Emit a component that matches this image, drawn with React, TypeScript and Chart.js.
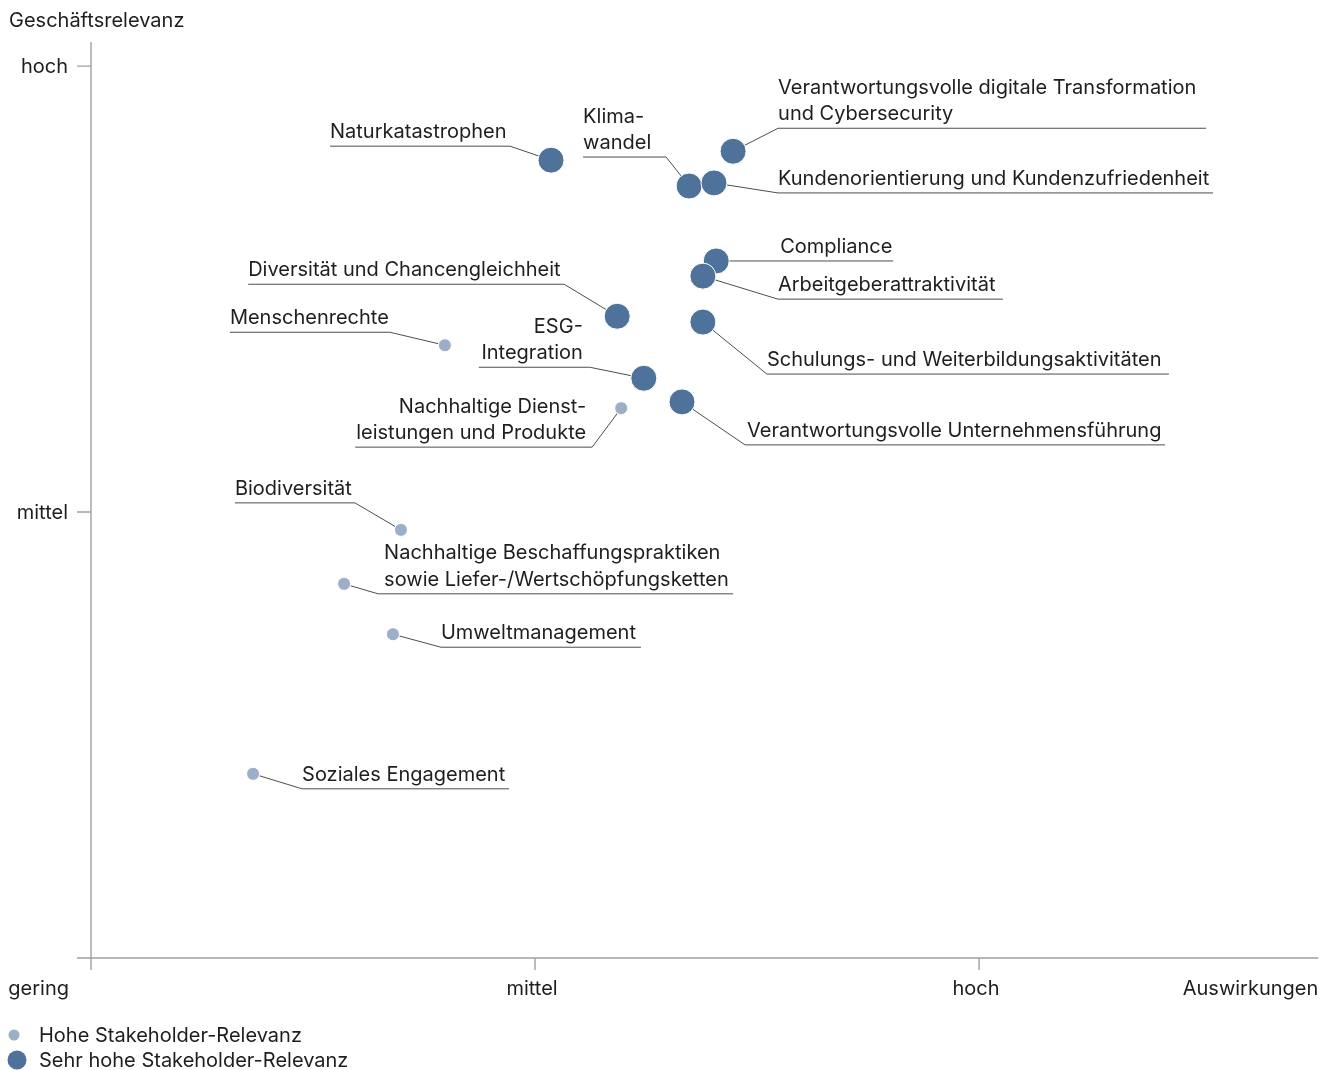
import React, { useEffect, useRef } from 'react';
import { Chart, registerables } from 'chart.js';

Chart.register(...registerables);

// ---------- DATA ----------
// x: Auswirkungen (0 = gering, 1 = mittel, 2 = hoch); y: Geschäftsrelevanz (same scale)
const highNames = [
  'Menschenrechte',
  'Nachhaltige Dienstleistungen und Produkte',
  'Biodiversität',
  'Nachhaltige Beschaffungspraktiken',
  'Umweltmanagement',
  'Soziales Engagement',
];
const highX = [0.797, 1.194, 0.698, 0.570, 0.680, 0.365];
const highY = [1.374, 1.233, 0.960, 0.839, 0.726, 0.413];

const veryHighNames = [
  'Naturkatastrophen',
  'Klimawandel',
  'Kundenorientierung',
  'Digitale Transformation',
  'Compliance',
  'Arbeitgeberattraktivität',
  'Diversität',
  'Schulungen',
  'ESG-Integration',
  'Unternehmensführung',
];
const veryHighX = [1.036, 1.347, 1.403, 1.446, 1.408, 1.378, 1.185, 1.378, 1.245, 1.331];
const veryHighY = [1.789, 1.731, 1.738, 1.809, 1.563, 1.529, 1.439, 1.426, 1.300, 1.247];

const labelTexts: Record<string, string[]> = {
  'Menschenrechte': ['Menschenrechte'],
  'Nachhaltige Dienstleistungen und Produkte': ['Nachhaltige Dienst-', 'leistungen und Produkte'],
  'Biodiversität': ['Biodiversität'],
  'Nachhaltige Beschaffungspraktiken': ['Nachhaltige Beschaffungspraktiken', 'sowie Liefer-/Wertschöpfungsketten'],
  'Umweltmanagement': ['Umweltmanagement'],
  'Soziales Engagement': ['Soziales Engagement'],
  'Naturkatastrophen': ['Naturkatastrophen'],
  'Klimawandel': ['Klima-', 'wandel'],
  'Kundenorientierung': ['Kundenorientierung und Kundenzufriedenheit'],
  'Digitale Transformation': ['Verantwortungsvolle digitale Transformation', 'und Cybersecurity'],
  'Compliance': ['Compliance'],
  'Arbeitgeberattraktivität': ['Arbeitgeberattraktivität'],
  'Diversität': ['Diversität und Chancengleichheit'],
  'Schulungen': ['Schulungs- und Weiterbildungsaktivitäten'],
  'ESG-Integration': ['ESG-', 'Integration'],
  'Unternehmensführung': ['Verantwortungsvolle Unternehmensführung'],
};

const xTickValues = [0, 1, 2];
const xTickLabels = ['gering', 'mittel', 'hoch'];
const yTickValues = [1, 2];
const yTickLabels = ['mittel', 'hoch'];
const xAxisEnd = 2.764;
const yAxisEnd = 2.054;
const xAxisTitle = 'Auswirkungen';
const yAxisTitle = 'Geschäftsrelevanz';
const seriesLabels = ['Hohe Stakeholder-Relevanz', 'Sehr hohe Stakeholder-Relevanz'];

// ---------- LAYOUT (pixel offsets of label underline relative to each point) ----------
type Lay = { uy: number; ux0: number; ux1: number; side: 'l' | 'r'; align: 'left' | 'right'; tx: number };
const labelLayout: Record<string, Lay> = {
  'Naturkatastrophen': { uy: -14, ux0: -221, ux1: -41, side: 'r', align: 'left', tx: -221 },
  'Klimawandel': { uy: -29, ux0: -106, ux1: -23, side: 'r', align: 'left', tx: -106 },
  'Digitale Transformation': { uy: -23, ux0: 45, ux1: 473, side: 'l', align: 'left', tx: 45 },
  'Kundenorientierung': { uy: 10, ux0: 64, ux1: 499, side: 'l', align: 'left', tx: 64 },
  'Compliance': { uy: 0, ux0: 0, ux1: 177, side: 'l', align: 'left', tx: 64 },
  'Arbeitgeberattraktivität': { uy: 23, ux0: 75, ux1: 300, side: 'l', align: 'left', tx: 75 },
  'Diversität': { uy: -32, ux0: -369, ux1: -53, side: 'r', align: 'left', tx: -369 },
  'Menschenrechte': { uy: -13, ux0: -215, ux1: -55, side: 'r', align: 'left', tx: -215 },
  'Schulungen': { uy: 52, ux0: 64, ux1: 466, side: 'l', align: 'left', tx: 64 },
  'ESG-Integration': { uy: -11, ux0: -165, ux1: -54, side: 'r', align: 'right', tx: -61 },
  'Nachhaltige Dienstleistungen und Produkte': { uy: 39, ux0: -266, ux1: -29, side: 'r', align: 'right', tx: -35 },
  'Unternehmensführung': { uy: 43, ux0: 63, ux1: 483, side: 'l', align: 'left', tx: 65 },
  'Biodiversität': { uy: -27, ux0: -166, ux1: -46, side: 'r', align: 'left', tx: -166 },
  'Nachhaltige Beschaffungspraktiken': { uy: 10, ux0: 34, ux1: 389, side: 'l', align: 'left', tx: 40 },
  'Umweltmanagement': { uy: 13, ux0: 48, ux1: 248, side: 'l', align: 'left', tx: 48 },
  'Soziales Engagement': { uy: 15, ux0: 49, ux1: 256, side: 'l', align: 'left', tx: 49 },
};

const FONT = '20px Inter, Roboto, sans-serif';
const TEXT_COLOR = '#1e1e1e';
const LINE_COLOR = '#4d4d4d';
const AXIS_COLOR = '#a0a0a0';
const COLOR_HIGH = '#9bafc8';
const COLOR_VERY_HIGH = '#4e7299';

const matrixPlugin = {
  id: 'matrixDecor',
  beforeDatasetsDraw(chart: any) {
    const { ctx } = chart;
    const xs = chart.scales.x;
    const ys = chart.scales.y;
    const x0 = xs.getPixelForValue(0);
    const y0 = ys.getPixelForValue(0);
    ctx.save();
    ctx.strokeStyle = AXIS_COLOR;
    ctx.lineWidth = 1.4;
    ctx.beginPath();
    ctx.moveTo(x0, ys.getPixelForValue(yAxisEnd));
    ctx.lineTo(x0, y0 + 12);
    ctx.moveTo(x0 - 14, y0);
    ctx.lineTo(xs.getPixelForValue(xAxisEnd), y0);
    yTickValues.forEach((v) => {
      const py = ys.getPixelForValue(v);
      ctx.moveTo(x0 - 14, py);
      ctx.lineTo(x0, py);
    });
    xTickValues.forEach((v) => {
      if (v === 0) return;
      const px = xs.getPixelForValue(v);
      ctx.moveTo(px, y0);
      ctx.lineTo(px, y0 + 12);
    });
    ctx.stroke();

    ctx.strokeStyle = LINE_COLOR;
    ctx.lineWidth = 1;
    const names = [highNames, veryHighNames];
    names.forEach((list, d) => {
      const meta = chart.getDatasetMeta(d);
      list.forEach((name, i) => {
        const el = meta.data[i];
        const L = labelLayout[name];
        if (!el || !L) return;
        const uy = el.y + L.uy;
        const ex = el.x + (L.side === 'l' ? L.ux0 : L.ux1);
        ctx.beginPath();
        ctx.moveTo(el.x, el.y);
        ctx.lineTo(ex, uy);
        ctx.moveTo(el.x + L.ux0, uy);
        ctx.lineTo(el.x + L.ux1, uy);
        ctx.stroke();
      });
    });
    ctx.restore();
  },
  afterDatasetsDraw(chart: any) {
    const { ctx } = chart;
    const xs = chart.scales.x;
    const ys = chart.scales.y;
    const x0 = xs.getPixelForValue(0);
    const y0 = ys.getPixelForValue(0);
    ctx.save();
    ctx.font = FONT;
    ctx.fillStyle = TEXT_COLOR;

    const names = [highNames, veryHighNames];
    names.forEach((list, d) => {
      const meta = chart.getDatasetMeta(d);
      list.forEach((name, i) => {
        const el = meta.data[i];
        const L = labelLayout[name];
        const lines = labelTexts[name];
        if (!el || !L || !lines) return;
        ctx.textAlign = L.align;
        ctx.textBaseline = 'alphabetic';
        const baseY = el.y + L.uy - 8;
        const n = lines.length;
        lines.forEach((t, k) => {
          ctx.fillText(t, el.x + L.tx, baseY - (n - 1 - k) * 26.5);
        });
      });
    });

    ctx.textBaseline = 'middle';
    ctx.textAlign = 'right';
    yTickValues.forEach((v, i) => {
      ctx.fillText(yTickLabels[i], x0 - 23, ys.getPixelForValue(v) + 1);
    });
    const ly = y0 + 31;
    xTickValues.forEach((v, i) => {
      if (v === 0) {
        ctx.textAlign = 'right';
        ctx.fillText(xTickLabels[i], x0 - 22, ly);
      } else {
        ctx.textAlign = 'center';
        ctx.fillText(xTickLabels[i], xs.getPixelForValue(v) - 3, ly);
      }
    });
    ctx.textAlign = 'right';
    ctx.fillText(xAxisTitle, xs.getPixelForValue(xAxisEnd), ly);
    ctx.textAlign = 'left';
    ctx.fillText(yAxisTitle, 9, 21);

    const legend = [
      { label: chart.data.datasets[0].label, color: COLOR_HIGH, r: 5.5, cx: 14, cy: y0 + 77 },
      { label: chart.data.datasets[1].label, color: COLOR_VERY_HIGH, r: 9.5, cx: 17, cy: y0 + 102 },
    ];
    legend.forEach((it) => {
      ctx.beginPath();
      ctx.fillStyle = it.color;
      ctx.arc(it.cx, it.cy, it.r, 0, Math.PI * 2);
      ctx.fill();
      ctx.fillStyle = TEXT_COLOR;
      ctx.textAlign = 'left';
      ctx.fillText(it.label, 39, it.cy + 1);
    });
    ctx.restore();
  },
};

export default function App() {
  const ref = useRef<HTMLCanvasElement | null>(null);
  useEffect(() => {
    if (!ref.current) return;
    const chart = new Chart(ref.current, {
      type: 'scatter',
      data: {
        datasets: [
          {
            label: seriesLabels[0],
            data: highX.map((x, i) => ({ x, y: highY[i] })),
            backgroundColor: COLOR_HIGH,
            borderColor: '#ffffff',
            borderWidth: 1,
            pointRadius: 6.5,
            pointHoverRadius: 6.5,
          },
          {
            label: seriesLabels[1],
            data: veryHighX.map((x, i) => ({ x, y: veryHighY[i] })),
            backgroundColor: COLOR_VERY_HIGH,
            borderColor: '#ffffff',
            borderWidth: 1,
            pointRadius: 13,
            pointHoverRadius: 13,
          },
        ],
      },
      options: {
        animation: false,
        responsive: false,
        layout: { padding: { left: 91, right: 15, top: 42, bottom: 112 } },
        scales: {
          x: { type: 'linear', display: false, min: 0, max: 2.734 },
          y: { type: 'linear', display: false, min: 0, max: yAxisEnd },
        },
        plugins: {
          legend: { display: false },
          tooltip: { enabled: false },
        },
        events: [],
      },
      plugins: [matrixPlugin],
    });
    return () => chart.destroy();
  }, []);
  return (
    <div style={{ position: 'absolute', left: 0, top: 0, width: 1320, height: 1070, background: '#fff' }}>
      <canvas ref={ref} width={1320} height={1070} style={{ width: 1320, height: 1070 }} />
    </div>
  );
}
